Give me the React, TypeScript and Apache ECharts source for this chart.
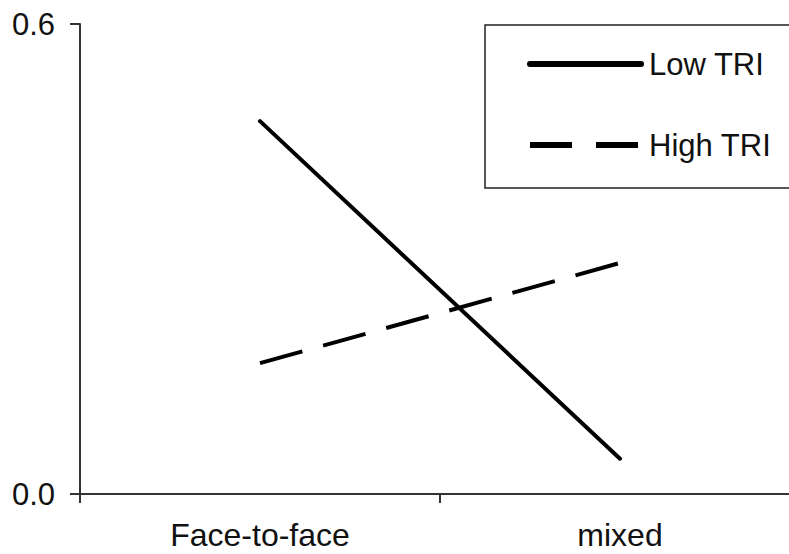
import React, { useEffect, useRef } from "react";
import * as echarts from "echarts";

const categories = ["Face-to-face", "mixed"];
const seriesNames = ["Low TRI", "High TRI"];
const lowTRI = [0.476, 0.045];
const highTRI = [0.167, 0.295];
const yTicks = [0, 0.6];

export default function App() {
  const ref = useRef<HTMLDivElement>(null);
  useEffect(() => {
    document.body.style.margin = "0";
    if (!ref.current) return;
    const chart = echarts.init(ref.current, null, { renderer: "svg" });
    const font = "'Liberation Sans', Arial, sans-serif";
    chart.setOption({
      animation: false,
      backgroundColor: "#ffffff",
      grid: { left: 80, top: 24, width: 720, height: 470, outerBoundsMode: "none", containLabel: false },
      legend: { show: false },
      graphic: [
        {
          type: "rect",
          shape: { x: 485, y: 25, width: 330, height: 163 },
          style: { fill: "none", stroke: "#222", lineWidth: 1.5 },
        },
        {
          type: "line",
          shape: { x1: 530, y1: 64, x2: 641, y2: 64 },
          style: { stroke: "#000", lineWidth: 6, lineCap: "round" },
        },
        {
          type: "text",
          x: 649,
          y: 64,
          style: { text: seriesNames[0], fontSize: 31, fontFamily: font, fill: "#111", verticalAlign: "middle", align: "left" },
        },
        {
          type: "line",
          shape: { x1: 530, y1: 145, x2: 638, y2: 145 },
          style: { stroke: "#000", lineWidth: 6, lineDash: [42, 24], lineCap: "butt" },
        },
        {
          type: "text",
          x: 649,
          y: 145,
          style: { text: seriesNames[1], fontSize: 31, fontFamily: font, fill: "#111", verticalAlign: "middle", align: "left" },
        },
      ],
      xAxis: {
        type: "category",
        data: categories,
        boundaryGap: true,
        axisLine: { lineStyle: { color: "#333", width: 2 } },
        axisTick: { show: true, length: 9, alignWithLabel: false, lineStyle: { color: "#333", width: 2 } },
        axisLabel: { fontSize: 32, fontFamily: font, color: "#111", margin: 25 },
        splitLine: { show: false },
      },
      yAxis: {
        type: "value",
        min: yTicks[0],
        max: yTicks[yTicks.length - 1],
        interval: yTicks[1] - yTicks[0],
        axisLine: { show: true, lineStyle: { color: "#333", width: 2 } },
        axisTick: { show: true, length: 10, lineStyle: { color: "#333", width: 2 } },
        axisLabel: { fontSize: 31, fontFamily: font, color: "#111", margin: 25, formatter: (v: number) => v.toFixed(1) },
        splitLine: { show: false },
      },
      series: [
        {
          name: seriesNames[0],
          type: "line",
          data: lowTRI,
          symbol: "none",
          lineStyle: { color: "#000", width: 4, type: "solid", cap: "round" },
          itemStyle: { color: "#000" },
        },
        {
          name: seriesNames[1],
          type: "line",
          data: highTRI,
          symbol: "none",
          lineStyle: { color: "#000", width: 4, type: [44, 21.5] },
          itemStyle: { color: "#000" },
        },
      ],
    });
    return () => chart.dispose();
  }, []);
  return <div ref={ref} style={{ width: 789, height: 554 }} />;
}
